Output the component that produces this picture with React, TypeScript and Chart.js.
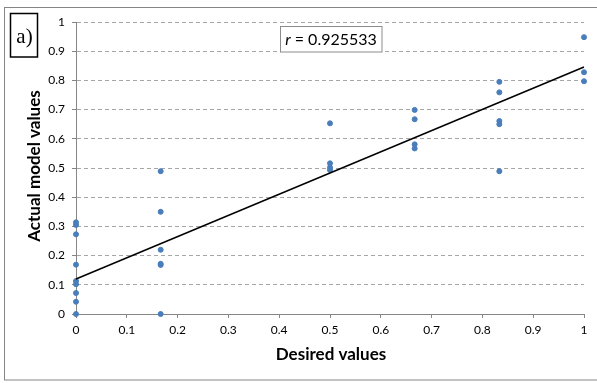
import React, { useEffect, useRef } from "react";
import { Chart, registerables } from "chart.js";

Chart.register(...registerables);

// Scatter data: desired (x) vs actual model (y)
const desiredValues = [
  0, 0, 0, 0, 0, 0, 0, 0, 0,
  1 / 6, 1 / 6, 1 / 6, 1 / 6, 1 / 6, 1 / 6,
  0.5, 0.5, 0.5, 0.5,
  2 / 3, 2 / 3, 2 / 3, 2 / 3,
  5 / 6, 5 / 6, 5 / 6, 5 / 6, 5 / 6,
  1, 1, 1,
];
const actualValues = [
  0, 0.042, 0.072, 0.102, 0.113, 0.169, 0.273, 0.305, 0.314,
  0, 0.168, 0.172, 0.22, 0.35, 0.489,
  0.493, 0.502, 0.516, 0.653,
  0.567, 0.581, 0.667, 0.699,
  0.489, 0.65, 0.661, 0.759, 0.795,
  0.797, 0.828, 0.948,
];
// Linear trend line end points
const trendX = [0, 1];
const trendY = [0.12, 0.846];

const xTicks = [0, 0.1, 0.2, 0.3, 0.4, 0.5, 0.6, 0.7, 0.8, 0.9, 1];
const yTicks = [0, 0.1, 0.2, 0.3, 0.4, 0.5, 0.6, 0.7, 0.8, 0.9, 1];

const xTitle = "Desired values";
const yTitle = "Actual model values";
const panelLabel = "a)";
const rLabel = "r";
const rValue = " = 0.925533";

const FONT = "Lato, 'Open Sans', sans-serif";

const decorPlugin = {
  id: "decor",
  beforeDraw(chart: any) {
    const ctx = chart.ctx;
    ctx.save();
    ctx.fillStyle = "#ffffff";
    ctx.fillRect(0, 0, chart.width, chart.height);
    ctx.restore();
  },
  afterDraw(chart: any) {
    const ctx = chart.ctx;
    const area = chart.chartArea;
    ctx.save();
    // outer frame
    ctx.strokeStyle = "#868686";
    ctx.lineWidth = 1;
    ctx.strokeRect(4.5, 7.5, chart.width + 5, 372.5);

    // panel label box
    ctx.fillStyle = "#ffffff";
    ctx.fillRect(10, 13, 28, 44);
    ctx.strokeStyle = "#000000";
    ctx.lineWidth = 1.5;
    ctx.strokeRect(10.5, 13.5, 27, 43.5);
    ctx.fillStyle = "#000000";
    ctx.font = "21px 'Liberation Serif', serif";
    ctx.textAlign = "center";
    ctx.textBaseline = "middle";
    ctx.fillText(panelLabel, 24.5, 37);

    // r box
    ctx.fillStyle = "#ffffff";
    ctx.fillRect(280, 27, 102, 25);
    ctx.strokeStyle = "#8c8c8c";
    ctx.lineWidth = 1;
    ctx.strokeRect(280.5, 26.5, 101.5, 25.5);
    ctx.fillStyle = "#000000";
    ctx.textAlign = "left";
    ctx.font = `italic 16px ${FONT}`;
    const rw = ctx.measureText(rLabel).width;
    ctx.font = `16px ${FONT}`;
    const vw = ctx.measureText(rValue).width;
    const startX = 331 - (rw + vw) / 2;
    ctx.font = `italic 16px ${FONT}`;
    ctx.fillText(rLabel, startX, 40);
    ctx.font = `16px ${FONT}`;
    ctx.fillText(rValue, startX + rw, 40);

    // axis titles
    ctx.font = `bold 17px ${FONT}`;
    ctx.textAlign = "center";
    ctx.fillText(xTitle, (area.left + area.right) / 2 + 1, 355);
    ctx.save();
    ctx.translate(35, (area.top + area.bottom) / 2 - 2);
    ctx.rotate(-Math.PI / 2);
    ctx.fillText(yTitle, 0, 0);
    ctx.restore();
    ctx.restore();
  },
};

export default function App() {
  const ref = useRef<HTMLCanvasElement | null>(null);
  useEffect(() => {
    if (!ref.current) return;
    const points = desiredValues.map((x, i) => ({ x, y: actualValues[i] }));
    const trend = trendX.map((x, i) => ({ x, y: trendY[i] }));
    const chart = new Chart(ref.current, {
      type: "scatter",
      data: {
        datasets: [
          {
            type: "line",
            data: trend,
            borderColor: "#000000",
            borderWidth: 1.5,
            pointRadius: 0,
            fill: false,
            clip: false,
            order: 0,
          } as any,
          {
            data: points,
            backgroundColor: "#4A7EBB",
            borderColor: "#4A7EBB",
            borderWidth: 1,
            pointRadius: 2.5,
            clip: false,
            order: 1,
          } as any,
        ],
      },
      options: {
        responsive: false,
        animation: false,
        devicePixelRatio: 1,
        layout: { padding: { left: 0, right: 13, top: 22, bottom: 0 } },
        plugins: {
          legend: { display: false },
          tooltip: { enabled: false },
        },
        scales: {
          x: {
            type: "linear",
            min: 0,
            max: 1,
            afterFit: (s: any) => {
              s.height = 69;
            },
            afterBuildTicks: (s: any) => {
              s.ticks = xTicks.map((v) => ({ value: v }));
            },
            ticks: {
              color: "#000000",
              font: { family: FONT, size: 12 },
              padding: 5,
              maxRotation: 0,
              callback: (v: any) => String(Math.round(v * 10) / 10),
            },
            grid: {
              drawOnChartArea: false,
              drawTicks: true,
              tickLength: 4,
              color: "#868686",
            },
            border: { display: true, color: "#868686", width: 1 },
          },
          y: {
            type: "linear",
            min: 0,
            max: 1,
            afterFit: (s: any) => {
              s.width = 76;
            },
            afterBuildTicks: (s: any) => {
              s.ticks = yTicks.map((v) => ({ value: v }));
            },
            ticks: {
              color: "#000000",
              font: { family: FONT, size: 12 },
              padding: 7,
              callback: (v: any) => String(Math.round(v * 10) / 10),
            },
            grid: {
              drawOnChartArea: true,
              drawTicks: true,
              tickLength: 4,
              color: "#a6a6a6",
              tickColor: "#868686",
            },
            border: { display: true, color: "#868686", width: 1, dash: [4, 3] },
          },
        },
      },
      plugins: [decorPlugin],
    });
    return () => chart.destroy();
  }, []);
  return (
    <div style={{ position: "absolute", left: 0, top: 0, width: 597, height: 383 }}>
      <canvas ref={ref} width={597} height={383} style={{ display: "block" }} />
    </div>
  );
}
